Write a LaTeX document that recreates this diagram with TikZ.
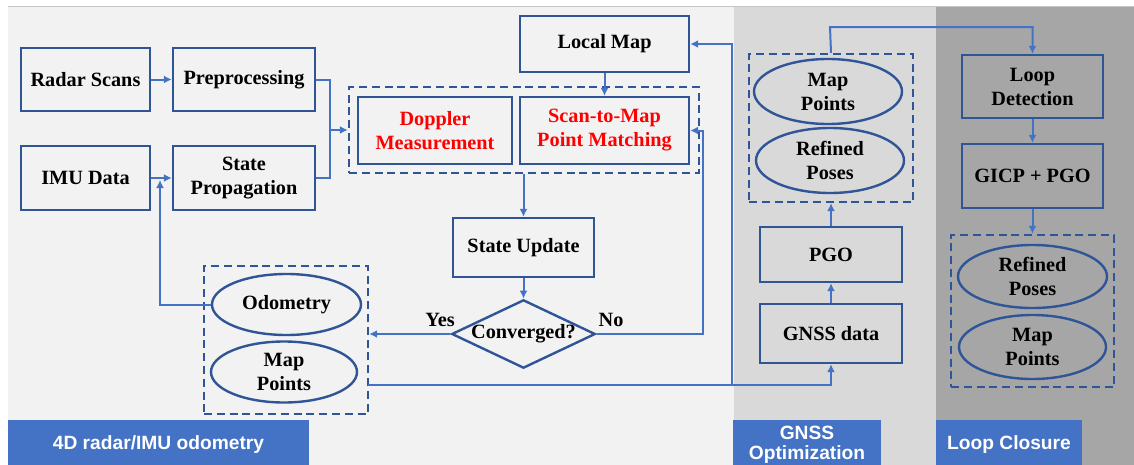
\documentclass[tikz,border=0pt]{standalone}
\usepackage{fontspec}
\setmainfont{Liberation Serif}
\newfontfamily\tagfont{Liberation Sans}
\usetikzlibrary{arrows.meta,shapes.geometric}
\definecolor{panelA}{HTML}{F2F2F2}
\definecolor{panelB}{HTML}{D9D9D9}
\definecolor{panelC}{HTML}{A6A6A6}
\definecolor{edge}{HTML}{2F5597}
\definecolor{wire}{HTML}{4472C4}
\definecolor{tagblue}{HTML}{4472C4}
\definecolor{hot}{HTML}{FF0000}
\tikzset{
  wh/.style 2 args={minimum width=#1*0.75pt, minimum height=#2*0.75pt},
  txt/.style={font=\fontsize{15.2}{18}\selectfont\bfseries, align=center, inner sep=0pt},
  box/.style={txt, draw=edge, line width=1.8pt, rectangle},
  oval/.style={txt, draw=edge, line width=1.8pt, ellipse},
  decide/.style={txt, draw=edge, line width=1.8pt, diamond},
  group/.style={draw=edge, line width=1.8pt, dash pattern=on 6pt off 3.6pt, rectangle, inner sep=0pt},
  wirepath/.style={draw=wire, line width=1.5pt},
  arr/.style={wirepath, -{Latex[length=6pt,width=6pt]}},
  tag/.style={fill=tagblue, text=white, inner sep=0pt, align=center,
    font=\tagfont\fontsize{14.4}{15}\selectfont\bfseries},
  yn/.style={font=\fontsize{15.2}{18}\selectfont\bfseries, inner sep=0pt}
}
\begin{document}
\begin{tikzpicture}[x=0.75pt, y=-0.75pt]
\useasboundingbox (0,0) rectangle (1134,464);
\clip (0,0) rectangle (1134,464);

% background panels
\fill[white] (0,0) rectangle (1134,464);
\fill[panelA] (8,6) rectangle (734,470);
\fill[panelB] (734,6) rectangle (936,470);
\fill[panelC] (936,6) rectangle (1134,470);
\draw[gray!45, line width=0.6pt] (8,6) -- (1134,6);

% section tags
\node[tag, wh={301}{50}] (tagA) at (158.5,445) {4D radar/IMU odometry};
\node[tag, wh={148}{50}] (tagB) at (807,445) {GNSS\\Optimization};
\node[tag, wh={146}{50}] (tagC) at (1009,445) {Loop Closure};

% odometry front end
\node[box, wh={129}{63}] (rs) at (85.5,79.5) {Radar Scans};
\node[box, wh={142}{63}] (pp) at (244,79.5) {Preprocessing};
\node[box, wh={129}{64}] (imu) at (85.5,178) {IMU Data};
\node[box, wh={142}{64}] (sp) at (244,178) {State\\Propagation};

\node[group, wh={350}{86}] (g1) at (524,130) {};
\node[box, wh={154}{67}, text=hot] (dop) at (435,130.5) {Doppler\\Measurement};
\node[box, wh={169}{67}, text=hot] (s2m) at (604.5,130.5) {Scan-to-Map\\Point Matching};
\node[box, wh={169}{56}] (lm) at (604.5,44) {Local Map};

\node[box, wh={141}{59}] (su) at (523.5,247.5) {State Update};
\node[decide, wh={139}{66}, aspect=2.1] (cv) at (523.5,334) {Converged?};

\node[group, wh={164}{148}] (g2) at (286,340) {};
\node[oval, wh={149}{61}] (odo) at (286.5,304.5) {Odometry};
\node[oval, wh={146}{61}] (mp1) at (284,372) {Map\\Points};

% GNSS optimization
\node[group, wh={164}{148}] (g3) at (831,128) {};
\node[oval, wh={148}{65}] (mp2) at (828,91.5) {Map\\Points};
\node[oval, wh={148}{65}] (rp2) at (830,160.5) {Refined\\Poses};
\node[box, wh={142}{55}] (pgo) at (831,254.5) {PGO};
\node[box, wh={142}{59}] (gnss) at (831,333.5) {GNSS data};

% loop closure
\node[box, wh={141}{63}] (ld) at (1032.5,86.5) {Loop\\Detection};
\node[box, wh={141}{64}] (gicp) at (1032.5,176) {GICP + PGO};
\node[group, wh={163}{152}] (g4) at (1032.5,311) {};
\node[oval, wh={149}{63}] (rp3) at (1032.5,276.5) {Refined\\Poses};
\node[oval, wh={147}{64}] (mp3) at (1032.5,347) {Map\\Points};

% junction points
\coordinate (fuse) at (330,130);
\coordinate (fb) at (160,180);
\coordinate (out) at (368,385);
\coordinate (split) at (732,385);
\coordinate (turn) at (703,334);
\coordinate (over) at (830,27);

% connectors
\draw[arr] (rs) -- (pp);
\draw[arr] (imu) -- (sp);
\draw[wirepath] (pp.east) -| (fuse);
\draw[wirepath] (sp.east) -| (fuse);
\draw[arr] (fuse) -- (g1.west);
\draw[arr] (lm.south) -- (s2m.north);
\draw[arr] (su.north |- g1.south) -- (su.north);
\draw[arr] (su.south) -- (cv.north);
\draw[arr] (cv.west) -- (g2.east |- cv.west);
\node[yn, above=5pt] (yes) at (440,334) {Yes};
\draw[arr] (cv.east) -- (turn) |- (s2m.east);
\node[yn, above=5pt] (no) at (611,334) {No};
\draw[arr] (odo.west) -| (fb);
\draw[wirepath] (out) -- (split);
\draw[arr] (split) -| (gnss.south);
\draw[arr] (split) |- (lm.east);
\draw[arr] (gnss.north) -- (pgo.south);
\draw[arr] (pgo.north) -- (g3.south);
\draw[arr] (g3.north) -- (over) -| (ld.north);
\draw[arr] (ld.south) -- (gicp.north);
\draw[arr] (gicp.south) -- (g4.north);
\end{tikzpicture}
\end{document}
